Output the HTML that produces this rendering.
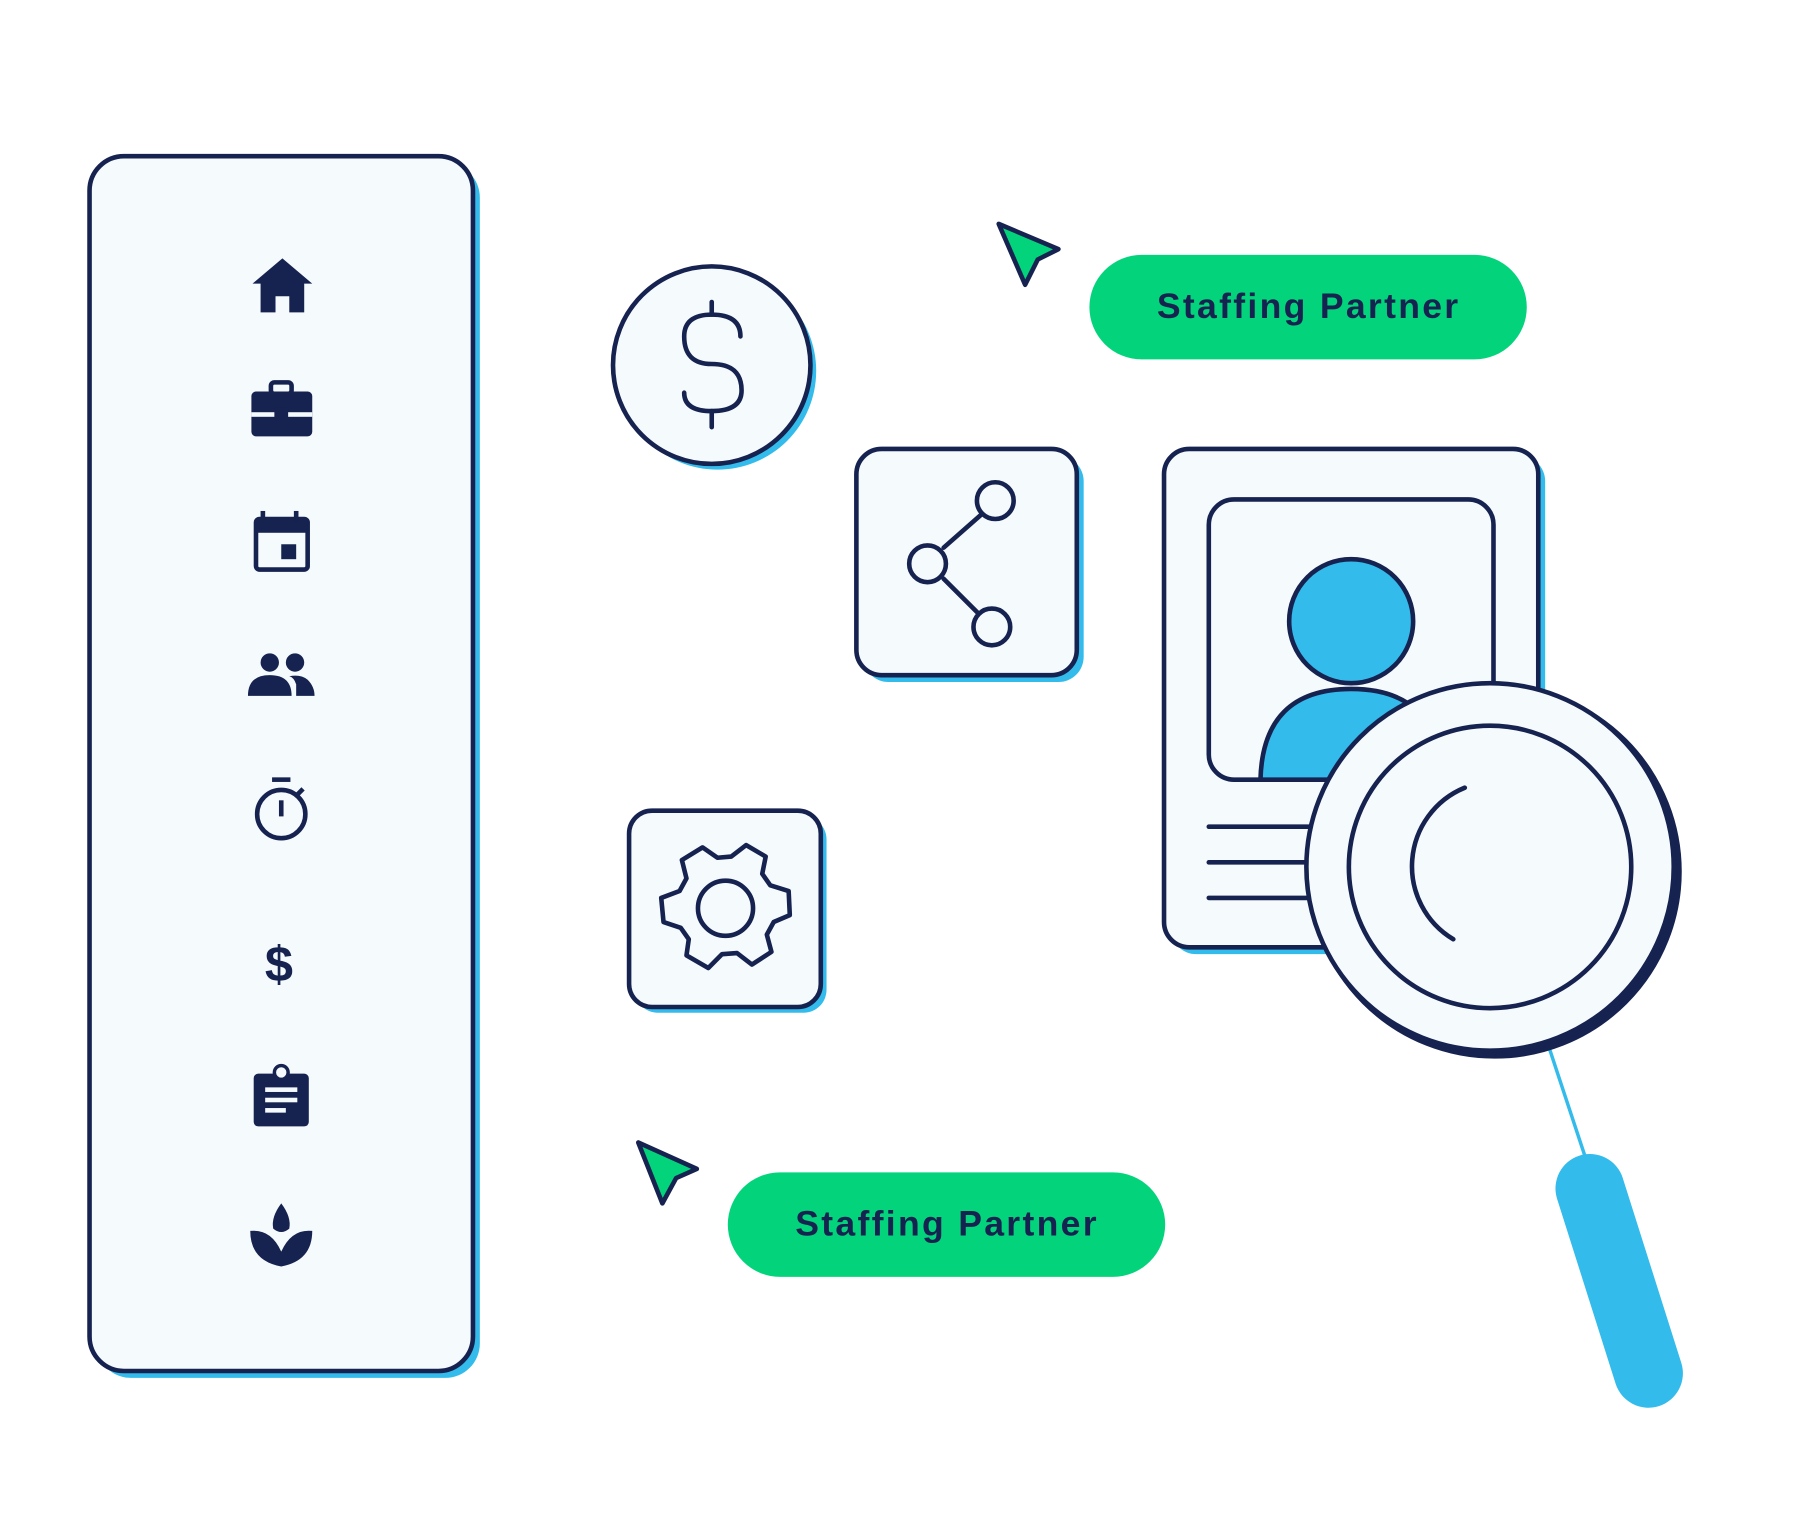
<!DOCTYPE html>
<html><head><style>html,body{margin:0;padding:0;background:#fff;}svg{display:block}</style></head>
<body>
<svg width="1800" height="1526" viewBox="0 0 1568 1329" preserveAspectRatio="none" xmlns="http://www.w3.org/2000/svg">
<g stroke="#16224f" stroke-width="4" stroke-linejoin="round" stroke-linecap="round">
<rect x="84" y="142" width="334" height="1058" rx="30" fill="#33bbec" stroke="none"/>
<rect x="78" y="136" width="334" height="1058" rx="30" fill="#f5fafd"/>
</g>
<g fill="#16224f">
<path d="M220 247 L246 225 L272 247 L265 247 L265 272 L252 272 L252 258 L240 258 L240 272 L227 272 L227 247 Z"/>
<rect x="236" y="333" width="18" height="10" rx="3" fill="none" stroke="#16224f" stroke-width="4"/>
<rect x="219" y="341" width="53" height="39" rx="4"/>
<rect x="219" y="359" width="53" height="4" fill="#f5fafd"/>
<rect x="239" y="355" width="12" height="10" rx="1"/>
<rect x="223" y="452" width="45" height="44" rx="3" fill="none" stroke="#16224f" stroke-width="4"/>
<rect x="223" y="452" width="45" height="12"/>
<rect x="227" y="445" width="4" height="10"/><rect x="256" y="445" width="4" height="10"/>
<rect x="245" y="474" width="13" height="13"/>
<circle cx="235" cy="577" r="8"/><circle cx="257" cy="577" r="8"/>
<path d="M216 606 Q216 588 235 588 Q254 588 254 606 Z"/>
<path d="M258 606 L258 596 Q256 590 252 589 Q262 587 268 592 Q274 598 274 606 Z"/>
<circle cx="245" cy="709" r="21" fill="none" stroke="#16224f" stroke-width="4"/>
<rect x="237" y="677" width="16" height="4"/>
<rect x="243" y="697" width="4" height="14"/>
<path d="M259 692 L264 687" stroke="#16224f" stroke-width="4"/>
</g>
<text x="243" y="855" font-family="Liberation Sans, sans-serif" font-size="44" font-weight="bold" fill="#16224f" text-anchor="middle">$</text>
<g fill="#16224f">
<rect x="221" y="935" width="48" height="46" rx="4"/>
<circle cx="245" cy="934" r="6" fill="#f5fafd" stroke="#16224f" stroke-width="3"/>
<rect x="231" y="947" width="28" height="4" fill="#f5fafd"/>
<rect x="231" y="956" width="28" height="4" fill="#f5fafd"/>
<rect x="231" y="965" width="18" height="4" fill="#f5fafd"/>
<path d="M245 1048 Q236 1060 238 1070 Q245 1076 252 1070 Q254 1060 245 1048 Z"/>
<path d="M218 1072 Q236 1070 245 1090 Q254 1070 272 1072 Q272 1098 245 1103 Q218 1098 218 1072 Z"/>
</g>
<g stroke="#16224f" stroke-width="4" stroke-linejoin="round" stroke-linecap="round">
<circle cx="625" cy="323" r="86" fill="#33bbec" stroke="none"/>
<circle cx="620" cy="318" r="86" fill="#f5fafd"/>
<path d="M645 293 Q645 274 620 274 Q596 274 596 293 Q596 317 620 317 Q646 317 646 340 Q646 358 620 358 Q596 358 596 342" fill="none"/>
<line x1="620" y1="263" x2="620" y2="274"/><line x1="620" y1="358" x2="620" y2="372"/>
<rect x="752" y="397" width="192" height="197" rx="22" fill="#33bbec" stroke="none"/>
<rect x="746" y="391" width="192" height="197" rx="22" fill="#f5fafd"/>
<line x1="822" y1="477" x2="855" y2="448"/><line x1="822" y1="504" x2="852" y2="534"/>
<circle cx="867" cy="436" r="16" fill="#f5fafd"/>
<circle cx="808" cy="491" r="16" fill="#f5fafd"/>
<circle cx="864" cy="546" r="16" fill="#f5fafd"/>
<rect x="553" y="711" width="167" height="171" rx="20" fill="#33bbec" stroke="none"/>
<rect x="548" y="706" width="167" height="171" rx="20" fill="#f5fafd"/>
<path d="M612 738 L625 747 L637 746 L650 736 L667 746 L664 761 L671 771 L687 776 L688 797 L674 803 L668 814 L672 829 L655 840 L642 830 L629 831 L617 843 L598 832 L600 818 L593 808 L578 803 L576 782 L592 776 L598 765 L594 749 Z" fill="none"/>
<circle cx="632" cy="791" r="24" fill="none"/>
<path d="M870 195 L922 217 L904 226 L893 248 Z" fill="#03d47c"/>
<path d="M556 995 L607 1018 L589 1026 L577 1048 Z" fill="#03d47c"/>
</g>
<rect x="949" y="222" width="381" height="91" rx="45.5" fill="#03d47c"/>
<text x="1140" y="277" font-family="Liberation Sans, sans-serif" font-size="31" font-weight="bold" fill="#16224f" text-anchor="middle" letter-spacing="2">Staffing Partner</text>
<rect x="634" y="1021" width="381" height="91" rx="45.5" fill="#03d47c"/>
<text x="825" y="1076" font-family="Liberation Sans, sans-serif" font-size="31" font-weight="bold" fill="#16224f" text-anchor="middle" letter-spacing="2">Staffing Partner</text>
<g stroke="#16224f" stroke-width="4" stroke-linejoin="round" stroke-linecap="round">
<rect x="1020" y="397" width="326" height="434" rx="22" fill="#33bbec" stroke="none"/>
<rect x="1014" y="391" width="326" height="434" rx="22" fill="#f5fafd"/>
<rect x="1053" y="435" width="248" height="244" rx="22" fill="#f5fafd"/>
<path d="M1098 679 Q1100 600 1177 600 Q1254 600 1256 679 Z" fill="#33bbec"/>
<circle cx="1177" cy="541" r="54" fill="#33bbec"/>
<line x1="1053" y1="720" x2="1150" y2="720"/>
<line x1="1053" y1="751" x2="1150" y2="751"/>
<line x1="1053" y1="782" x2="1150" y2="782"/>
<line x1="1347" y1="905" x2="1385" y2="1020" stroke="#33bbec" stroke-width="3"/>
<line x1="1385" y1="1035" x2="1436" y2="1196" stroke="#33bbec" stroke-width="60"/>
<circle cx="1302" cy="759" r="161" fill="#16224f"/>
<circle cx="1298" cy="755" r="160" fill="#f5fafd"/>
<circle cx="1298" cy="755" r="123" fill="#f5fafd"/>
<path d="M1276 686 A74 74 0 0 0 1266 818" fill="none"/>
</g>
</svg>
</body></html>
